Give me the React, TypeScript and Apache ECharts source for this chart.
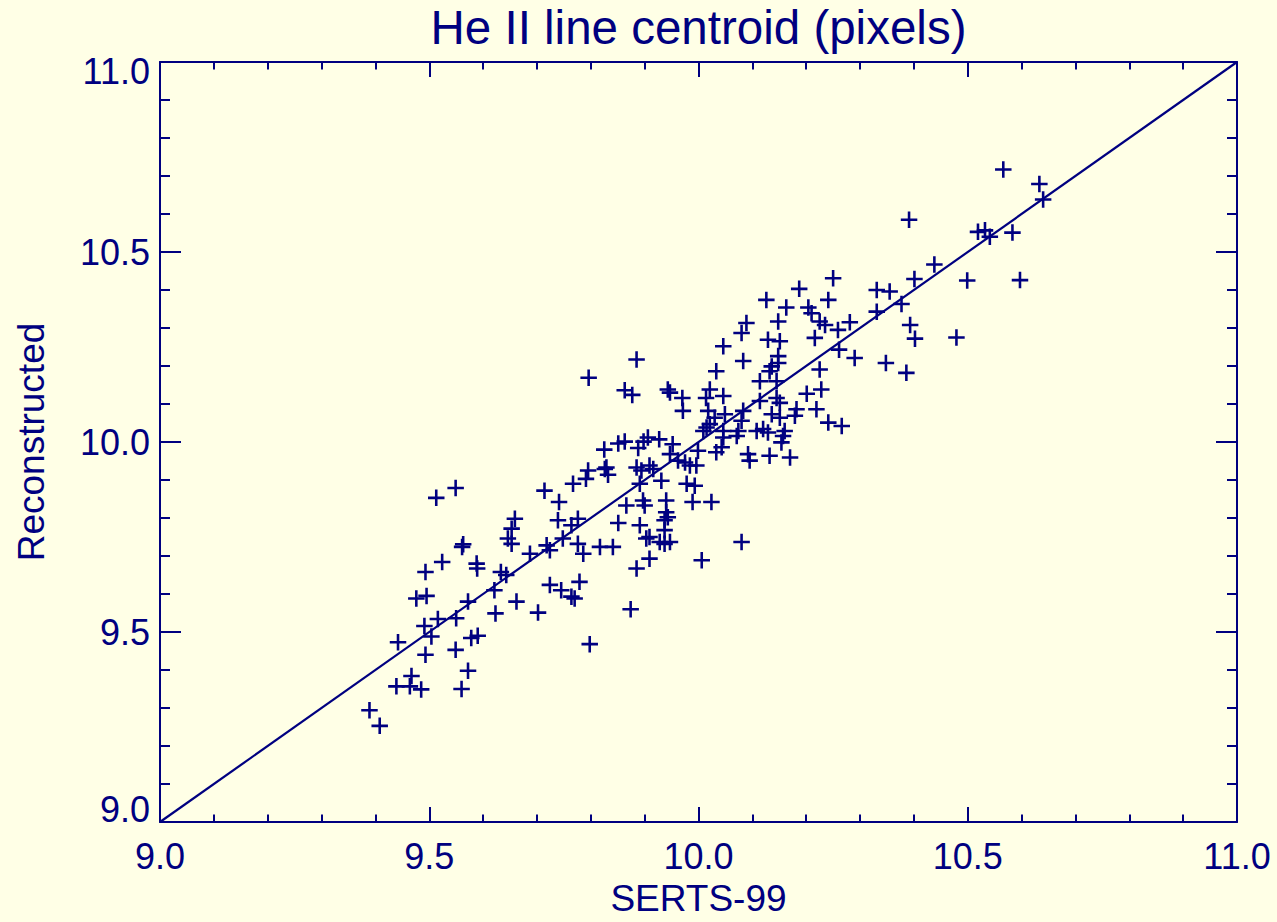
import React, { useEffect, useRef } from "react";
import * as echarts from "echarts";

const serts99: number[] = [
  9.389, 9.408, 9.442, 9.439, 9.464, 9.467, 9.485, 9.493, 9.491, 9.504,
  9.476, 9.495, 9.493, 9.524, 9.513, 9.549, 9.516, 9.550, 9.549, 9.560,
  9.572, 9.578, 9.590, 9.572, 9.563, 9.561, 9.588, 9.589, 9.621, 9.623,
  9.633, 9.643, 9.662, 9.659, 9.653, 9.646, 9.653, 9.825, 9.851, 9.863,
  9.888, 9.898, 9.906, 9.795, 9.791, 9.829, 9.832, 9.767, 9.714, 9.741,
  9.885, 9.894, 9.897, 9.866, 9.739, 9.776, 9.764, 9.851, 9.891, 9.903,
  9.748, 9.718, 9.724, 9.687, 9.776, 9.786, 9.817, 9.841, 9.885, 9.779,
  9.724, 9.745, 9.764, 9.770, 9.702, 9.874, 9.798, 9.796, 9.885, 10.046,
  10.033, 9.863, 9.877, 9.943, 9.947, 9.970, 9.971, 10.021, 10.014, 10.046,
  10.018, 10.030, 10.021, 10.015, 10.009, 10.049, 10.046, 10.043, 10.033, 9.927,
  9.952, 9.947, 9.962, 9.975, 9.984, 9.999, 9.996, 9.826, 9.909, 9.916,
  9.931, 9.891, 9.978, 9.993, 9.900, 9.940, 9.989, 10.024, 9.940, 9.943,
  9.937, 9.937, 9.909, 9.928, 9.937, 9.947, 9.909, 10.006, 10.250, 10.187,
  10.126, 10.163, 10.241, 10.204, 10.210, 10.225, 10.235, 10.089, 10.080, 10.148,
  10.129, 10.151, 10.216, 10.259, 10.083, 10.148, 10.148, 10.136, 10.132, 10.225,
  10.114, 10.145, 10.201, 10.228, 10.114, 10.145, 10.151, 10.083, 10.080, 10.136,
  10.151, 10.182, 10.179, 10.219, 10.241, 10.046, 10.074, 10.071, 10.108, 10.120,
  10.129, 10.160, 10.157, 10.154, 10.132, 10.170, 10.092, 10.095, 10.080, 10.266,
  10.566, 10.633, 10.640, 10.391, 10.519, 10.532, 10.541, 10.583, 10.438, 10.401,
  10.499, 10.597, 10.331, 10.355, 10.377, 10.331, 10.281, 10.393, 10.402, 10.479,
  10.261, 10.290, 10.348, 10.386,
];

const reconstructed: number[] = [
  9.294, 9.253, 9.473, 9.357, 9.357, 9.384, 9.349, 9.440, 9.516, 9.488,
  9.588, 9.595, 9.658, 9.684, 9.853, 9.879, 9.534, 9.536, 9.453, 9.350,
  9.398, 9.484, 9.490, 9.580, 9.731, 9.724, 9.680, 9.667, 9.610, 9.549,
  9.658, 9.650, 9.580, 9.798, 9.772, 9.746, 9.732, 9.980, 9.996, 10.001,
  9.984, 10.001, 10.012, 9.925, 9.903, 9.933, 9.914, 9.890, 9.872, 9.842,
  9.933, 9.925, 9.846, 9.833, 9.794, 9.798, 9.781, 9.787, 9.781, 9.746,
  9.746, 9.728, 9.715, 9.706, 9.732, 9.706, 9.724, 9.724, 9.667, 9.632,
  9.624, 9.610, 9.593, 9.588, 9.551, 9.560, 9.468, 10.169, 10.217, 10.252,
  10.186, 10.136, 10.124, 10.138, 10.130, 10.116, 10.082, 10.138, 10.116, 10.121,
  10.082, 10.064, 10.047, 10.038, 10.029, 10.073, 10.029, 9.986, 9.973, 10.007,
  9.994, 9.968, 9.951, 9.946, 9.938, 9.977, 9.938, 9.929, 9.938, 9.929,
  9.898, 9.890, 9.890, 9.885, 9.833, 9.846, 9.842, 9.842, 9.815, 9.802,
  9.794, 9.768, 9.750, 9.737, 9.732, 9.737, 9.693, 9.689, 10.431, 10.403,
  10.374, 10.354, 10.374, 10.354, 10.339, 10.317, 10.308, 10.313, 10.287, 10.317,
  10.269, 10.265, 10.274, 10.295, 10.213, 10.226, 10.208, 10.199, 10.186, 10.191,
  10.160, 10.160, 10.127, 10.138, 10.108, 10.116, 10.103, 10.082, 10.056, 10.073,
  10.064, 10.086, 10.069, 10.086, 10.051, 10.012, 10.029, 10.016, 10.029, 10.034,
  10.025, 10.029, 10.016, 9.999, 9.964, 9.959, 9.968, 9.951, 9.737, 10.042,
  10.717, 10.679, 10.638, 10.585, 10.553, 10.557, 10.540, 10.551, 10.467, 10.429,
  10.425, 10.426, 10.400, 10.396, 10.363, 10.343, 10.315, 10.308, 10.272, 10.275,
  10.243, 10.221, 10.208, 10.182,
];

const identityLine: number[][] = [
  [9.0, 9.0],
  [11.0, 11.0],
];

const titleText = "He II line centroid (pixels)";
const xName = "SERTS-99";
const yName = "Reconstructed";

const NAVY = "#000080";
const BG = "#FFFFE6";
const FONT = "'Liberation Sans', Arial, Helvetica, sans-serif";
const PLUS = "path://M6.75,0H9.25V6.75H16V9.25H9.25V16H6.75V9.25H0V6.75H6.75Z";

export default function App() {
  const ref = useRef<HTMLDivElement>(null);

  useEffect(() => {
    if (!ref.current) return;
    const chart = echarts.init(ref.current, undefined, { renderer: "svg" });

    const points = serts99.map((x, i) => [x, reconstructed[i]]);

    const xCommon = (pos: "bottom" | "top", showLabel: boolean) => ({
      type: "value" as const,
      position: pos,
      min: 9.0,
      max: 11.0,
      interval: 0.5,
      axisLine: { show: true, onZero: false, lineStyle: { color: NAVY, width: 2 } },
      axisTick: { show: true, inside: true, length: 15, lineStyle: { color: NAVY, width: 2 } },
      minorTick: { show: true, splitNumber: 5, length: 7.5, lineStyle: { color: NAVY, width: 2 } },
      splitLine: { show: false },
      axisLabel: {
        show: showLabel,
        color: NAVY,
        fontSize: 36,
        fontFamily: FONT,
        margin: 16,
        formatter: (v: number) => v.toFixed(1),
      },
    });

    const yCommon = (pos: "left" | "right", showLabel: boolean) => ({
      type: "value" as const,
      position: pos,
      min: 9.0,
      max: 11.0,
      interval: 0.5,
      axisLine: { show: true, onZero: false, lineStyle: { color: NAVY, width: 2 } },
      axisTick: { show: true, inside: true, length: 21, lineStyle: { color: NAVY, width: 2 } },
      minorTick: { show: true, splitNumber: 5, length: 10, lineStyle: { color: NAVY, width: 2 } },
      splitLine: { show: false },
      axisLabel: {
        show: showLabel,
        color: NAVY,
        fontSize: 36,
        fontFamily: FONT,
        margin: 10,
        formatter: (v: number) =>
          Math.abs(v - 11) < 1e-9
            ? "{mx|11.0}"
            : Math.abs(v - 9) < 1e-9
            ? "{mn|9.0}"
            : v.toFixed(1),
        rich: {
          mx: { color: NAVY, fontSize: 36, fontFamily: FONT, padding: [18, 0, 0, 0] },
          mn: { color: NAVY, fontSize: 36, fontFamily: FONT, padding: [0, 0, 25, 0] },
        },
      },
    });

    const option = {
      animation: false,
      backgroundColor: BG,
      grid: { left: 160, right: 40, top: 62, bottom: 96, containLabel: false },
      graphic: [
        {
          type: "text",
          x: 698.5,
          y: 3,
          style: {
            text: titleText,
            fill: NAVY,
            fontSize: 47.5,
            fontFamily: FONT,
            textAlign: "center",
            textVerticalAlign: "top",
          },
        },
      ],
      xAxis: [
        {
          ...xCommon("bottom", true),
          name: xName,
          nameLocation: "middle",
          nameGap: 58,
          nameTextStyle: { color: NAVY, fontSize: 37, fontFamily: FONT },
        },
        xCommon("top", false),
      ],
      yAxis: [
        {
          ...yCommon("left", true),
          name: yName,
          nameLocation: "middle",
          nameGap: 110,
          nameTextStyle: { color: NAVY, fontSize: 37, fontFamily: FONT },
        },
        yCommon("right", false),
      ],
      series: [
        {
          type: "line",
          data: identityLine,
          xAxisIndex: 0,
          yAxisIndex: 0,
          showSymbol: false,
          symbol: "none",
          lineStyle: { color: NAVY, width: 2.2 },
          silent: true,
        },
        {
          type: "scatter",
          data: points,
          xAxisIndex: 0,
          yAxisIndex: 0,
          symbol: PLUS,
          symbolSize: 16.5,
          itemStyle: { color: NAVY, opacity: 1 },
          silent: true,
        },
      ],
    };

    chart.setOption(option as any);
    return () => chart.dispose();
  }, []);

  return (
    <div
      ref={ref}
      style={{ position: "fixed", left: 0, top: 0, width: 1277, height: 922, background: BG }}
    />
  );
}
